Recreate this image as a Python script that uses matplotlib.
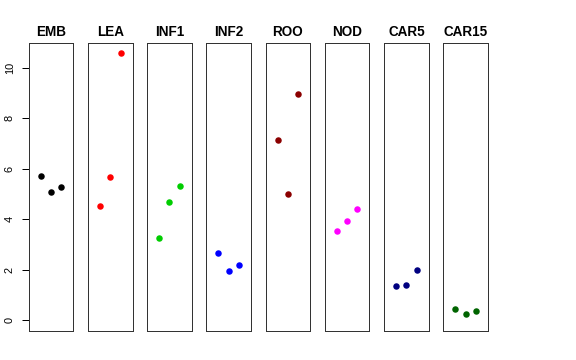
import matplotlib
matplotlib.use("Agg")
import matplotlib.pyplot as plt

# tissue groups, three replicates each
groups = ["EMB", "LEA", "INF1", "INF2", "ROO", "NOD", "CAR5", "CAR15"]
colors = ["black", "red", "#00CD00", "blue", "#8B0000", "magenta", "#000080", "#006400"]
replicate_x = [1, 2, 3]

emb = [5.70, 5.09, 5.30]
lea = [4.55, 5.67, 10.58]
inf1 = [3.25, 4.68, 5.34]
inf2 = [2.66, 1.97, 2.19]
roo = [7.15, 5.02, 8.95]
nod = [3.56, 3.94, 4.40]
car5 = [1.36, 1.41, 1.98]
car15 = [0.44, 0.26, 0.38]
values = [emb, lea, inf1, inf2, roo, nod, car5, car15]

yticks = [0, 2, 4, 6, 8, 10]

plt.rcParams['font.family'] = ['Liberation Sans', 'DejaVu Sans']

W, H = 576, 360
fig = plt.figure(figsize=(W / 72, H / 72), dpi=72)

left0, step, width = 28.7, 59.23, 44.6
top, bottom = 42.7, 331.0

for i, (name, col, vals) in enumerate(zip(groups, colors, values)):
    ax = fig.add_axes([(left0 + i * step) / W, 1 - bottom / H,
                       width / W, (bottom - top) / H])
    ax.scatter(replicate_x, vals, s=42, color=col, zorder=3, linewidths=0)
    ax.set_xlim(-0.16, 4.16)
    ax.set_ylim(-0.42, 11.0)
    ax.set_xticks([])
    for sp in ax.spines.values():
        sp.set_linewidth(1.0)
        sp.set_color("#333333")
    ax.set_title(name, fontsize=13.5, fontweight="bold", pad=7)
    if i == 0:
        ax.set_yticks(yticks)
        ax.set_yticklabels([str(t) for t in yticks], rotation=90, va="center",
                           fontsize=11)
        ax.tick_params(axis="y", length=7, width=1, pad=7)
    else:
        ax.set_yticks([])

fig.savefig("out.png", dpi=72)
